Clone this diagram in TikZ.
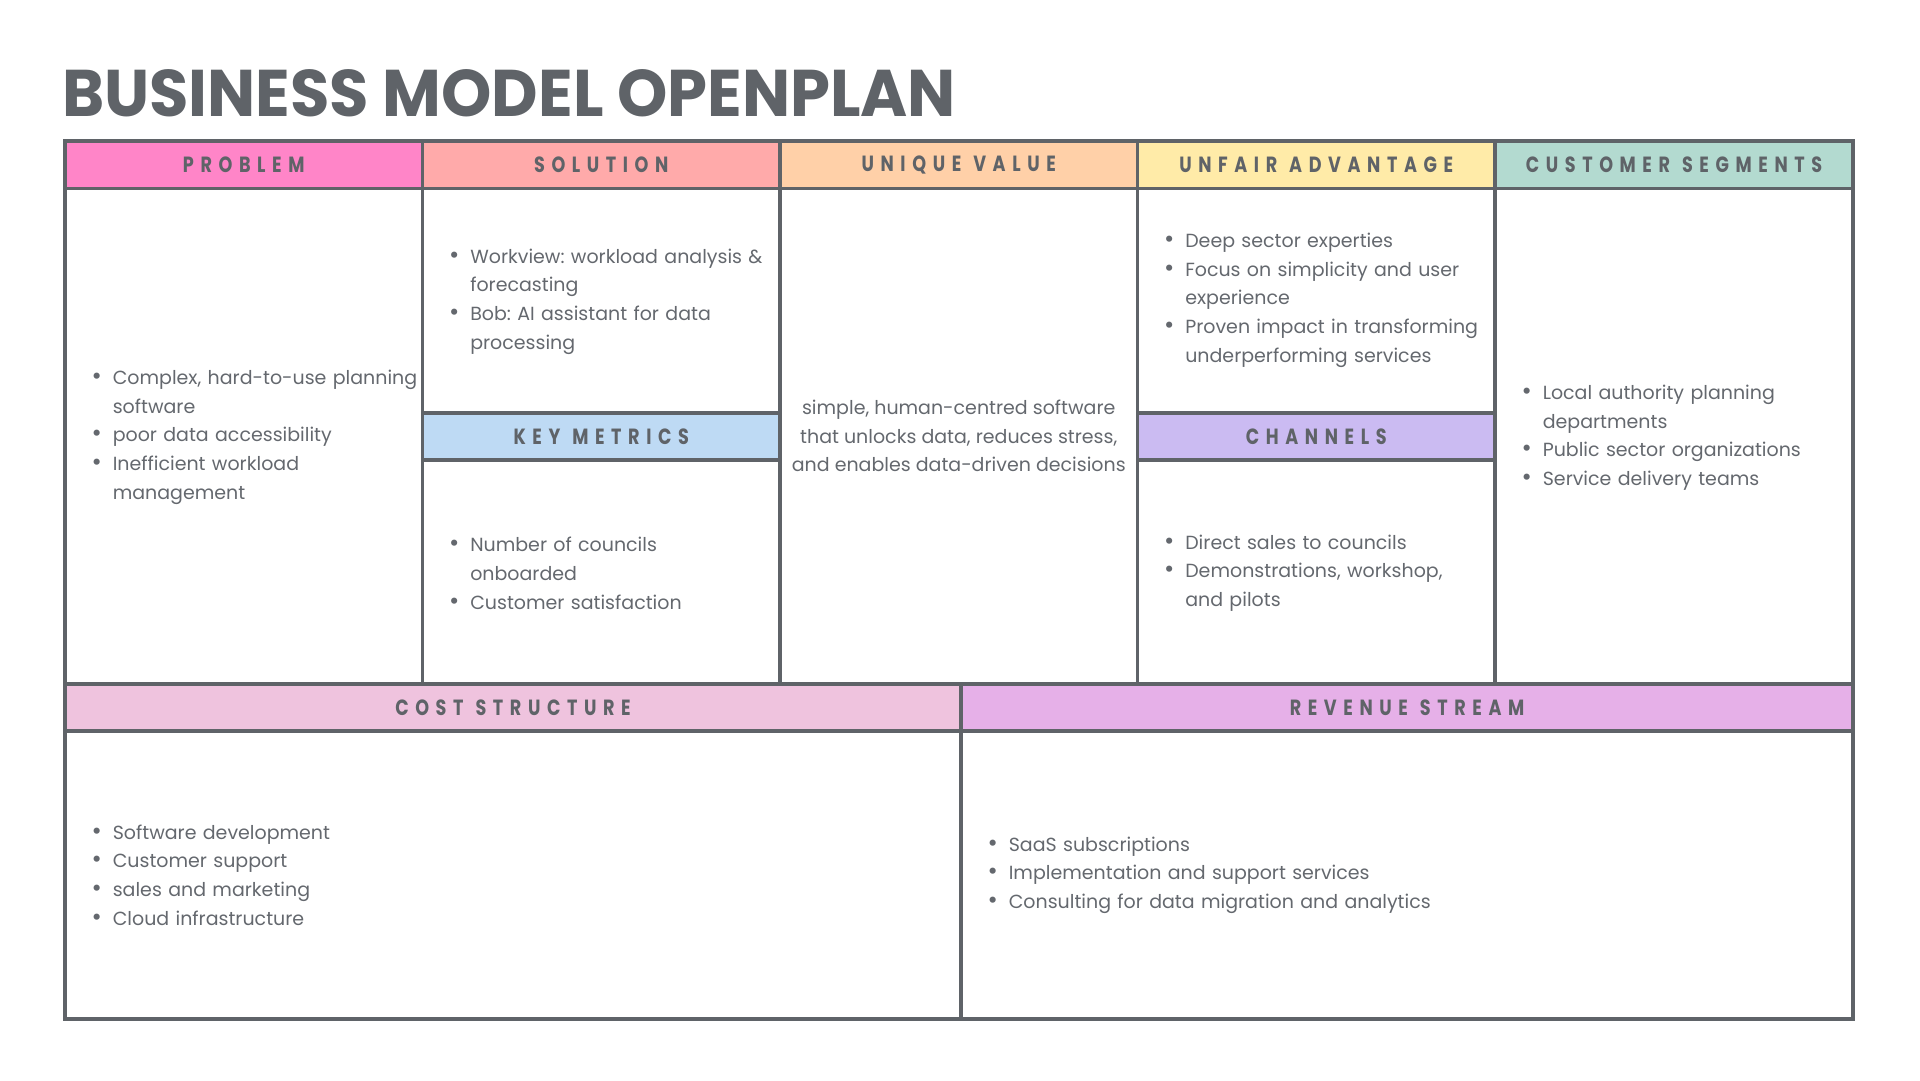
\documentclass[tikz,border=0pt]{standalone}
\usepackage{fontspec}
\setmainfont{Poppins}
\newfontfamily\titlefont[FakeStretch=0.97]{Poppins}
\newfontfamily\headfont[FakeStretch=0.8,LetterSpace=30]{Poppins}
\newcommand\hdfont{\headfont\bfseries\fontsize{22}{22}\selectfont\spaceskip=12pt\relax}
\usepackage{enumitem}
\setlist[itemize]{label={\fontsize{25}{25}\selectfont\textbullet}, leftmargin=16pt, labelsep=11pt, itemsep=0pt, topsep=0pt, parsep=0pt, partopsep=0pt}
\frenchspacing
\definecolor{ink}{RGB}{95,99,104}
\definecolor{txt}{RGB}{100,104,110}
\definecolor{problemC}{RGB}{255,133,200}
\definecolor{solutionC}{RGB}{255,170,170}
\definecolor{valueC}{RGB}{255,208,168}
\definecolor{unfairC}{RGB}{255,235,168}
\definecolor{segmentC}{RGB}{179,218,208}
\definecolor{metricC}{RGB}{190,218,244}
\definecolor{channelC}{RGB}{203,187,242}
\definecolor{costC}{RGB}{239,195,222}
\definecolor{revenueC}{RGB}{230,176,232}

\begin{document}
\begin{tikzpicture}[x=1pt, y=-1pt,
  hd/.style={inner sep=0, minimum height=47.5pt, minimum width=357.5pt, text=ink, font=\hdfont},
  lst/.style={anchor=west, inner sep=0, text width=600pt, align=left, text=txt, font=\fontsize{19}{28.8}\selectfont},
  grid/.style={draw=ink, line width=3.6pt}]
\useasboundingbox (0,0) rectangle (1920,1080);
\node[anchor=base west, inner sep=0, text=ink, font=\titlefont\bfseries\fontsize{66}{66}\selectfont] (title) at (62,116) {BUSINESS MODEL OPENPLAN};
% header bands
\node[hd, fill=problemC] (problem) at (243.75,164.75) {PROBLEM};
\node[hd, fill=solutionC] (solution) at (601.25,164.75) {SOLUTION};
\node[hd, fill=valueC] (value) at (958.75,164.75) {UNIQUE VALUE};
\node[hd, fill=unfairC] (unfair) at (1316.25,164.75) {UNFAIR ADVANTAGE};
\node[hd, fill=segmentC, minimum width=358pt] (segments) at (1674,164.75) {CUSTOMER SEGMENTS};
\node[hd, fill=metricC] (metrics) at (601.25,436.5) {KEY METRICS};
\node[hd, fill=channelC] (channels) at (1316.25,436.5) {CHANNELS};
\node[hd, fill=costC, minimum width=896pt] (cost) at (513,707.5) {COST STRUCTURE};
\node[hd, fill=revenueC, minimum width=892pt] (revenue) at (1407,707.5) {REVENUE STREAM};
% grid lines
\draw[grid] (65,141) rectangle (1853,1019);
\draw[grid] (65,188.5) -- (1853,188.5) (65,684) -- (1853,684) (65,731) -- (1853,731);
\foreach \x in {422.5,780,1137.5,1495} \draw[grid] (\x,141) -- (\x,684);
\draw[grid] (961,684) -- (961,1019);
\draw[grid] (422.5,413) -- (780,413) (422.5,460) -- (780,460);
\draw[grid] (1137.5,413) -- (1495,413) (1137.5,460) -- (1495,460);
% cell texts
\node[lst] (problemT) at (96.6,430) {\begin{itemize}
  \item Complex, hard-to-use planning\newline software
  \item poor data accessibility
  \item Inefficient workload\newline management
\end{itemize}};
\node[lst] (solutionT) at (454.1,294.5) {\begin{itemize}
  \item Workview: workload analysis \&\newline forecasting
  \item Bob: AI assistant for data\newline processing
\end{itemize}};
\node[lst] (metricsT) at (454.1,566) {\begin{itemize}
  \item Number of councils\newline onboarded
  \item Customer satisfaction
\end{itemize}};
\node[align=center, inner sep=0, text=txt, font=\fontsize{19}{28.8}\selectfont] (valueT) at (958.75,436)
  {simple, human-centred software\\that unlocks data, reduces stress,\\and enables data-driven decisions};
\node[lst] (unfairT) at (1169.1,293) {\begin{itemize}
  \item Deep sector experties
  \item Focus on simplicity and user\newline experience
  \item Proven impact in transforming\newline underperforming services
\end{itemize}};
\node[lst] (channelsT) at (1169.1,566) {\begin{itemize}
  \item Direct sales to councils
  \item Demonstrations, workshop,\newline and pilots
\end{itemize}};
\node[lst] (segmentsT) at (1526.6,430.5) {\begin{itemize}
  \item Local authority planning\newline departments
  \item Public sector organizations
  \item Service delivery teams
\end{itemize}};
\node[lst] (costT) at (96.6,868) {\begin{itemize}
  \item Software development
  \item Customer support
  \item sales and marketing
  \item Cloud infrastructure
\end{itemize}};
\node[lst] (revenueT) at (992.6,868) {\begin{itemize}
  \item SaaS subscriptions
  \item Implementation and support services
  \item Consulting for data migration and analytics
\end{itemize}};
\end{tikzpicture}
\end{document}
